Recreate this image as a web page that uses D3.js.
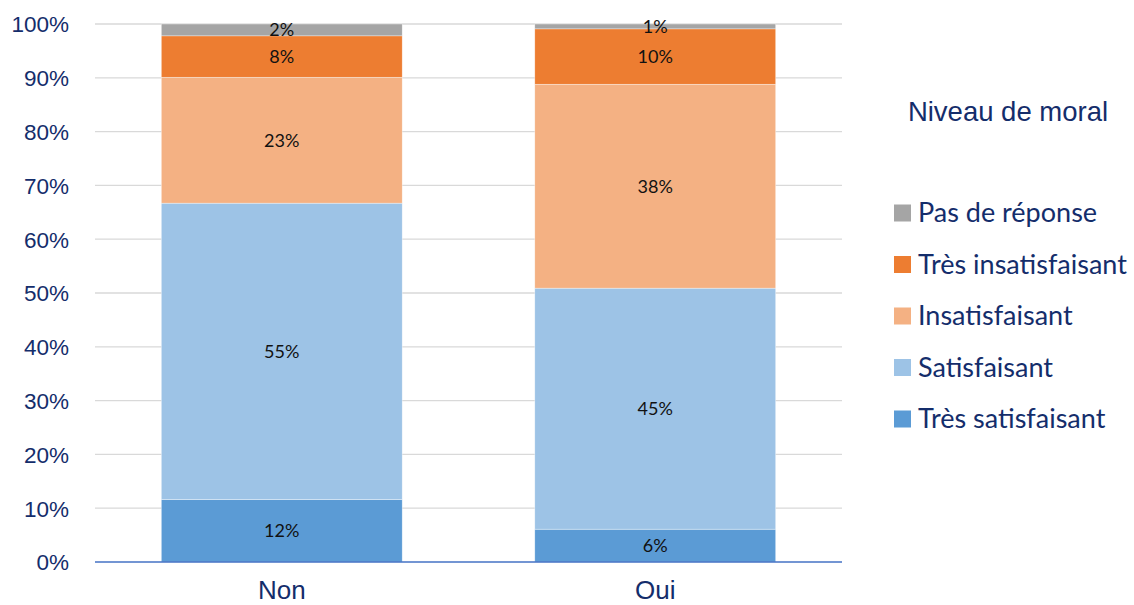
<!DOCTYPE html>
<html><head><meta charset="utf-8">
<script src="https://cdn.jsdelivr.net/npm/d3@7"></script>
<style>body{margin:0;background:#fff}svg{display:block}</style>
</head><body>
<svg id="c" width="1134" height="605"></svg>
<script>
const categories = ["Non", "Oui"];
const seriesNames = ["Très satisfaisant", "Satisfaisant", "Insatisfaisant", "Très insatisfaisant", "Pas de réponse"];
const tresSatisfaisant = [11.6, 6.1];
const satisfaisant = [55.1, 44.8];
const insatisfaisant = [23.4, 37.9];
const tresInsatisfaisant = [7.7, 10.3];
const pasDeReponse = [2.2, 0.9];
const dataLabels = [["12%", "6%"], ["55%", "45%"], ["23%", "38%"], ["8%", "10%"], ["2%", "1%"]];
const yTicks = [0, 10, 20, 30, 40, 50, 60, 70, 80, 90, 100];
const colors = ["#5B9BD5", "#9DC3E6", "#F4B183", "#ED7D31", "#A5A5A5"];
const legendTitle = "Niveau de moral";

const seriesValues = [tresSatisfaisant, satisfaisant, insatisfaisant, tresInsatisfaisant, pasDeReponse];
const rows = categories.map((c, i) => {
  const r = {cat: c};
  seriesNames.forEach((s, j) => r[s] = seriesValues[j][i]);
  return r;
});
const stacked = d3.stack().keys(seriesNames)(rows);

const svg = d3.select("#c");
const navy = "#142D6B";
const x = d3.scaleBand().domain(categories).range([95, 842]).paddingInner(0.355).paddingOuter(0.1775);
const y = d3.scaleLinear().domain([0, 100]).range([562, 24]);

// gridlines
svg.append("g").selectAll("line").data(yTicks.filter(t => t > 0)).join("line")
  .attr("x1", 95).attr("x2", 842)
  .attr("y1", d => y(d)).attr("y2", d => y(d))
  .attr("stroke", "#D9D9D9").attr("stroke-width", 1.3);

// y axis labels
const yAxis = d3.axisLeft(y).tickValues(yTicks).tickFormat(d => d + "%").tickSize(0).tickPadding(0);
const ya = svg.append("g").attr("transform", "translate(69,0)").call(yAxis);
ya.select(".domain").remove();
ya.selectAll("text").attr("font-family", "Liberation Sans, Arial, sans-serif").attr("font-size", 22.5)
  .attr("fill", navy).attr("dy", "0.35em");

// bars
const g = svg.append("g");
stacked.forEach((s, j) => {
  g.append("g").selectAll("rect").data(s).join("rect")
    .attr("x", d => x(d.data.cat)).attr("width", x.bandwidth())
    .attr("y", d => y(d[1])).attr("height", d => y(d[0]) - y(d[1]))
    .attr("fill", colors[j]).attr("stroke", "#fff").attr("stroke-width", 0.6).attr("stroke-opacity", 0.6);
  g.append("g").selectAll("text").data(s).join("text")
    .attr("x", d => x(d.data.cat) + x.bandwidth() / 2)
    .attr("y", d => (y(d[0]) + y(d[1])) / 2)
    .attr("dy", "0.36em").attr("text-anchor", "middle")
    .attr("font-family", "Lato, sans-serif").attr("font-size", 18).attr("fill", "#111")
    .text((d, i) => dataLabels[j][i]);
});

// baseline
svg.append("line").attr("x1", 95).attr("x2", 842).attr("y1", y(0)).attr("y2", y(0))
  .attr("stroke", "#4472C4").attr("stroke-width", 1.6);

// x axis labels
const xAxis = d3.axisBottom(x).tickSize(0).tickPadding(0);
const xa = svg.append("g").attr("transform", "translate(0,581)").call(xAxis);
xa.select(".domain").remove();
xa.selectAll("text").attr("font-family", "Liberation Sans, Arial, sans-serif").attr("font-size", 26)
  .attr("fill", navy).attr("dy", "0.71em");

// legend
svg.append("text").attr("x", 1008).attr("y", 111).attr("dy", "0.35em").attr("text-anchor", "middle")
  .attr("font-family", "Liberation Sans, Arial, sans-serif").attr("font-size", 27.5).attr("fill", navy)
  .text(legendTitle);
const legendOrder = seriesNames.slice().reverse();
const ly = d3.scalePoint().domain(legendOrder).range([213, 419]);
const lg = svg.append("g").selectAll("g").data(legendOrder).join("g")
  .attr("transform", d => `translate(894,${ly(d)})`);
lg.append("rect").attr("x", 0).attr("y", -8.5).attr("width", 17).attr("height", 17)
  .attr("fill", d => colors[seriesNames.indexOf(d)]);
lg.append("text").attr("x", 24).attr("dy", "0.35em")
  .attr("font-family", "Lato, sans-serif").attr("font-size", 27).attr("fill", navy)
  .text(d => d);
</script>
</body></html>
